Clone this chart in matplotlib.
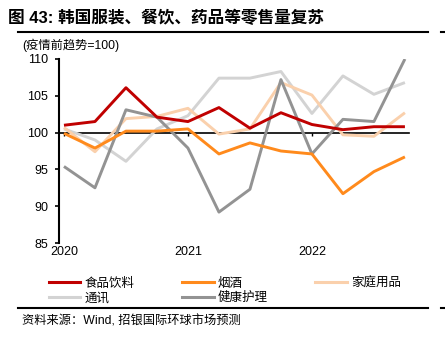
import matplotlib
matplotlib.use('Agg')
import matplotlib.pyplot as plt
from matplotlib.lines import Line2D

plt.rcParams['font.family'] = ['Liberation Sans', 'Noto Sans CJK SC', 'DejaVu Sans']

# quarterly retail volume index, 2020Q1 - 2022Q4 (pre-pandemic trend = 100)
quarters = list(range(12))
food = [101.0, 101.5, 106.1, 102.1, 101.5, 103.4, 100.6, 102.7, 101.1, 100.4, 100.8, 100.8]
tobacco = [99.9, 97.9, 100.2, 100.2, 100.5, 97.1, 98.6, 97.5, 97.1, 91.7, 94.7, 96.7]
household = [100.7, 97.4, 101.9, 102.2, 103.3, 99.8, 100.5, 106.8, 105.1, 99.7, 99.5, 102.7]
telecom = [100.5, 99.0, 96.1, 100.5, 102.3, 107.4, 107.4, 108.3, 102.6, 107.7, 105.2, 106.8]
health = [95.4, 92.5, 103.1, 102.1, 97.9, 89.2, 92.3, 107.2, 97.1, 101.8, 101.5, 110.0]

names = ['食品饮料', '烟酒', '家庭用品', '通讯', '健康护理']
colors = ['#C00000', '#FF8A1C', '#FAD0AC', '#D3D3D3', '#939393']
year_pos = [0, 4, 8]
year_labels = ['2020', '2021', '2022']

fig = plt.figure(figsize=(4.45, 3.43), dpi=100)
ax = fig.add_axes([0.1326, 0.2915, 0.7864, 0.5365])

series = [food, tobacco, household, telecom, health]
# draw lighter lines first so the red one stays on top
order = [3, 2, 4, 1, 0]
for i in order:
    ax.plot(quarters, series[i], color=colors[i], lw=2.1, solid_capstyle='butt', zorder=3 + (i == 0))

ax.set_xlim(-0.16, 11.13)
ax.set_ylim(85, 110)
ax.set_yticks([85, 90, 95, 100, 105, 110])
ax.tick_params(axis='y', direction='out', length=3, width=1.2, labelsize=9, pad=5)

for s in ['top', 'right']:
    ax.spines[s].set_visible(False)
ax.spines['left'].set_linewidth(1.5)
ax.spines['bottom'].set_position(('data', 100))
ax.spines['bottom'].set_linewidth(1.2)
ax.spines['bottom'].set_zorder(2)
ax.set_xticks(year_pos)
ax.tick_params(axis='x', direction='out', length=2, width=1, labelbottom=False)

# year labels sit below the plot area
sec = ax.secondary_xaxis('bottom')
sec.set_xticks(year_pos, year_labels)
sec.tick_params(length=0, labelsize=9, pad=2)
sec.spines['bottom'].set_visible(False)

# title, rules and notes
fig.text(0.018, 0.948, '图 43: 韩国服装、餐饮、药品等零售量复苏', fontsize=12,
         fontweight='bold', va='center', ha='left')
fig.add_artist(Line2D([0.04, 0.962], [0.907, 0.907], color='black', lw=1.5))
fig.add_artist(Line2D([0.99, 1.0], [0.907, 0.907], color='black', lw=1.5))
fig.text(0.05, 0.868, '(疫情前趋势=100)', fontsize=8.8, va='center', ha='left')

# legend fills column by column, so interleave to get rows of three
handles = [Line2D([], [], color=c, lw=2.2) for c in colors]
leg_order = [0, 3, 1, 4, 2]
fig.legend([handles[k] for k in leg_order], [names[k] for k in leg_order],
           loc='upper left', bbox_to_anchor=(0.098, 0.205), ncol=3,
           frameon=False, fontsize=9, handlelength=2.55, handletextpad=0.35,
           columnspacing=3.75, labelspacing=0.2, borderaxespad=0)

fig.add_artist(Line2D([0.04, 0.962], [0.102, 0.102], color='black', lw=1.5))
fig.add_artist(Line2D([0.99, 1.0], [0.102, 0.102], color='black', lw=1.5))
fig.text(0.05, 0.064, '资料来源：Wind, 招银国际环球市场预测', fontsize=8.8, va='center', ha='left')

fig.savefig('out.png', dpi=100)
